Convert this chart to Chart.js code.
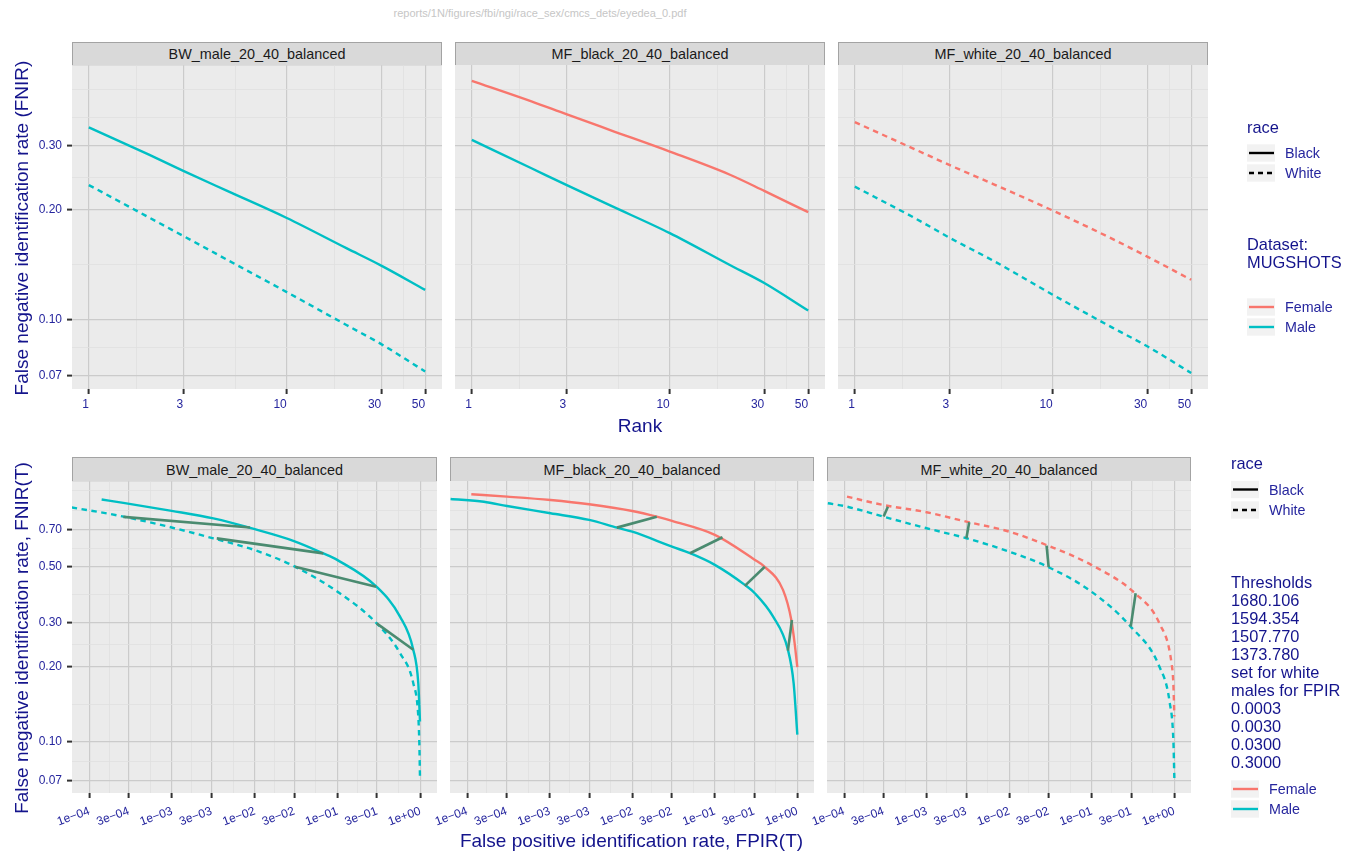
<!DOCTYPE html>
<html>
<head>
<meta charset="utf-8">
<title>eyedea_0</title>
<script src="https://cdn.jsdelivr.net/npm/chart.js@4.4.1/dist/chart.umd.min.js"></script>
<style>
  html, body { margin: 0; padding: 0; background: #fff; }
  #page { position: relative; width: 1359px; height: 855px; overflow: hidden;
          font-family: "Liberation Sans", Arial, Helvetica, sans-serif; }
  #page canvas { position: absolute; }
  .txt { position: absolute; white-space: nowrap; line-height: 1; }
  .strip { position: absolute; box-sizing: border-box; background: #d9d9d9; border: 1px solid #a3a3a3;
           color: #1a1a1a; font-size: 14.4px; display: flex; align-items: center; justify-content: center; }
</style>
</head>
<body>
<div id="page"></div>
<script>
// ---------- data ----------
const panelNames = ['BW_male_20_40_balanced', 'MF_black_20_40_balanced', 'MF_white_20_40_balanced'];

// top row: FNIR by rank
const ranks = [1, 2, 3, 5, 10, 20, 30, 50];
const bwBlackMaleRank = [0.337, 0.284, 0.256, 0.2255, 0.190, 0.157, 0.1406, 0.1206];
const bwWhiteMaleRank = [0.234, 0.191, 0.1696, 0.1459, 0.1189, 0.0966, 0.0856, 0.072];
const mfbFemaleRank = [0.452, 0.397, 0.366, 0.331, 0.289, 0.250, 0.2254, 0.197];
const mfbMaleRank = [0.311, 0.260, 0.234, 0.2056, 0.1726, 0.1413, 0.1259, 0.1058];
const mfwFemaleRank = [0.348, 0.2935, 0.2655, 0.2353, 0.199, 0.1664, 0.1488, 0.1285];
const mfwMaleRank = [0.2315, 0.19, 0.1678, 0.145, 0.1169, 0.095, 0.0844, 0.0713];

// bottom row: DET curves (FPIR, FNIR)
const bwBlackMaleFpir = [1.41e-4, 2.58e-4, 9.9e-4, 3.16e-3, 1.0e-2, 2.92e-2, 6.73e-2, 0.1, 0.297, 0.569, 0.823, 0.946, 0.992];
const bwBlackMaleFnir = [0.924, 0.896, 0.833, 0.777, 0.704, 0.633, 0.564, 0.530, 0.415, 0.316, 0.233, 0.1715, 0.1207];
const bwWhiteMaleFpir = [6.12e-5, 2.14e-4, 9.9e-4, 3.16e-3, 1.0e-2, 2.92e-2, 0.1, 0.297, 0.569, 0.823, 0.946, 0.973, 0.992];
const bwWhiteMaleFnir = [0.859, 0.80, 0.715, 0.647, 0.581, 0.503, 0.397, 0.297, 0.226, 0.1715, 0.1264, 0.1, 0.0719];

const mfbFemaleFpir = [1.12e-4, 3.04e-4, 1.02e-3, 3.0e-3, 1.0e-2, 1.98e-2, 3.03e-2, 0.1, 0.3, 0.403, 0.67, 0.846, 0.928, 1.0];
const mfbFemaleFnir = [0.968, 0.947, 0.918, 0.883, 0.830, 0.788, 0.758, 0.667, 0.533, 0.498, 0.403, 0.306, 0.247, 0.1986];
const mfbMaleFpir = [6.28e-5, 1.59e-4, 3.04e-4, 1.02e-3, 3.0e-3, 6.5e-3, 1.0e-2, 3.03e-2, 5.01e-2, 0.1, 0.231, 0.305, 0.507, 0.769, 0.902, 1.0];
const mfbMaleFnir = [0.927, 0.904, 0.869, 0.813, 0.765, 0.713, 0.687, 0.599, 0.564, 0.507, 0.422, 0.391, 0.316, 0.233, 0.1715, 0.107];

const mfwFemaleFpir = [1.08e-4, 3.0e-4, 9.95e-4, 3.02e-3, 1.0e-2, 3.0e-2, 9.86e-2, 0.333, 0.658, 0.925, 0.972, 0.99, 1.0];
const mfwFemaleFnir = [0.947, 0.877, 0.821, 0.753, 0.687, 0.603, 0.507, 0.391, 0.297, 0.206, 0.172, 0.143, 0.1264];
const mfwMaleFpir = [6.32e-5, 1.0e-4, 3.0e-4, 9.95e-4, 3.02e-3, 1.0e-2, 3.0e-2, 9.86e-2, 0.296, 0.658, 0.881, 0.975, 1.0];
const mfwMaleFnir = [0.891, 0.869, 0.788, 0.709, 0.647, 0.572, 0.496, 0.397, 0.288, 0.1998, 0.1429, 0.1, 0.0719];

// threshold links (same threshold on both groups)
const bwLinkWhiteFpir = [2.58e-4, 3.47e-3, 3.06e-2, 0.297];
const bwLinkWhiteFnir = [0.788, 0.647, 0.499, 0.297];
const bwLinkBlackFpir = [8.75e-3, 6.73e-2, 0.292, 0.823];
const bwLinkBlackFnir = [0.715, 0.564, 0.415, 0.233];

const mfbLinkMaleFpir = [6.5e-3, 5.01e-2, 0.231, 0.769];
const mfbLinkMaleFnir = [0.713, 0.564, 0.418, 0.231];
const mfbLinkFemaleFpir = [1.98e-2, 0.124, 0.403, 0.86];
const mfbLinkFemaleFnir = [0.788, 0.653, 0.498, 0.306];

const mfwLinkMaleFpir = [3.0e-4, 3.02e-3, 3.0e-2, 0.296];
const mfwLinkMaleFnir = [0.79, 0.647, 0.496, 0.288];
const mfwLinkFemaleFpir = [3.38e-4, 3.27e-3, 2.83e-2, 0.34];
const mfwLinkFemaleFnir = [0.864, 0.749, 0.605, 0.391];

// axis ticks
const rankTicks = [1, 3, 10, 30, 50];
const rankTickLabels = ['1', '3', '10', '30', '50'];
const rankMinor = [1.732, 5.477, 17.32, 38.73];
const rankFnirTicks = [0.07, 0.1, 0.2, 0.3];
const rankFnirTickLabels = ['0.07', '0.10', '0.20', '0.30'];
const rankFnirMinor = [0.0837, 0.1414, 0.2449, 0.3585, 0.4286];

const fpirTicks = [1e-4, 3e-4, 1e-3, 3e-3, 1e-2, 3e-2, 1e-1, 3e-1, 1];
const fpirTickLabels = ['1e\u221204', '3e\u221204', '1e\u221203', '3e\u221203', '1e\u221202', '3e\u221202', '1e\u221201', '3e\u221201', '1e+00'];
const fpirMinor = [1.733e-4, 5.48e-4, 1.733e-3, 5.48e-3, 1.733e-2, 5.48e-2, 0.1733, 0.548];
const detFnirTicks = [0.07, 0.1, 0.2, 0.3, 0.5, 0.7];
const detFnirTickLabels = ['0.07', '0.10', '0.20', '0.30', '0.50', '0.70'];
const detFnirMinor = [0.0837, 0.1414, 0.2449, 0.3873, 0.5916, 0.8367, 1.0];

const thresholdLines = ['Thresholds', '1680.106', '1594.354', '1507.770', '1373.780',
  'set for white', 'males for FPIR', '0.0003', '0.0030', '0.0300', '0.3000'];

// ---------- styling ----------
const FEMALE = '#F8766D', MALE = '#00BFC4', LINK = '#4a8b70';
const TICK_TXT = '#26269e', TITLE_TXT = '#14148c';
const FONT = '"Liberation Sans", Arial, Helvetica, sans-serif';

const page = document.getElementById('page');

// plot-area geometry in page px
const topRow = { t: 65, b: 389, cols: [[72, 442], [455, 825], [838, 1208]] };
const botRow = { t: 481, b: 793, cols: [[72, 437], [450, 814], [827, 1191]] };
const M = { l: 80, t: 12, r: 40, b: 70 }, AXW = 40, AXH = 50;

const panelBg = {
  id: 'panelBg',
  beforeDraw(chart) {
    const { ctx, chartArea: a } = chart;
    ctx.save();
    ctx.fillStyle = '#ebebeb';
    ctx.fillRect(a.left, a.top, a.right - a.left, a.bottom - a.top);
    ctx.restore();
  }
};

function axisOpts(dir, a) {
  const all = a.ticks.map((v, i) => ({ value: v, txt: a.labels[i] }))
    .concat(a.minor.map(v => ({ value: v, txt: '', minor: true })))
    .filter(t => t.value > a.min && t.value < a.max)
    .sort((p, q) => p.value - q.value);
  return {
    type: 'logarithmic',
    min: a.min,
    max: a.max,
    afterBuildTicks: s => { s.ticks = all.map(t => Object.assign({}, t)); },
    afterFit: s => { if (dir === 'x') s.height = AXH; else s.width = AXW; },
    border: { display: false },
    grid: {
      color: c => (c.tick && c.tick.minor ? '#e0e0e0' : '#cbcbcb'),
      lineWidth: c => (c.tick && c.tick.minor ? 0.8 : 1.2),
      drawTicks: a.show,
      tickLength: 5,
      tickWidth: 2,
      tickColor: c => (c.tick && c.tick.minor ? 'rgba(0,0,0,0)' : '#333333')
    },
    ticks: {
      display: a.show,
      autoSkip: false,
      color: TICK_TXT,
      font: { family: FONT, size: 12 },
      padding: a.pad,
      minRotation: a.rot || 0,
      maxRotation: a.rot || 0,
      align: dir === 'x' ? 'end' : 'center',
      callback: (v, i, ts) => ts[i].txt
    }
  };
}

function makePanel(col, row, x, y, datasets) {
  const [l, r] = col;
  const w = r - l + M.l + M.r, h = row.b - row.t + M.t + M.b;
  const canvas = document.createElement('canvas');
  canvas.width = w; canvas.height = h;
  canvas.style.left = (l - M.l) + 'px';
  canvas.style.top = (row.t - M.t) + 'px';
  canvas.style.width = w + 'px';
  canvas.style.height = h + 'px';
  page.appendChild(canvas);
  new Chart(canvas, {
    type: 'line',
    data: { datasets },
    options: {
      responsive: false,
      animation: false,
      events: [],
      layout: { padding: { left: M.l - AXW, top: M.t, right: M.r, bottom: M.b - AXH } },
      plugins: { legend: { display: false }, tooltip: { enabled: false } },
      elements: { point: { radius: 0 }, line: { borderCapStyle: 'butt', borderJoinStyle: 'round' } },
      scales: { x: axisOpts('x', x), y: axisOpts('y', y) }
    },
    plugins: [panelBg]
  });
}

function series(xs, ys, color, dashed) {
  return {
    data: xs.map((v, i) => ({ x: v, y: ys[i] })),
    borderColor: color, borderWidth: 2.4, borderDash: dashed ? [5.5, 4.5] : [],
    cubicInterpolationMode: 'monotone',
    pointRadius: 0, fill: false, order: 2
  };
}

function links(ax, ay, bx, by) {
  return ax.map((v, i) => ({
    data: [{ x: v, y: ay[i] }, { x: bx[i], y: by[i] }],
    borderColor: LINK, borderWidth: 2.6, pointRadius: 0, fill: false, tension: 0, order: 0
  }));
}

// axis ranges
const rankX = { min: Math.pow(10, -0.085), max: Math.pow(10, 1.784), ticks: rankTicks, labels: rankTickLabels, minor: rankMinor, show: true, pad: 3 };
const rankY = { min: Math.pow(10, -1.1908), max: Math.pow(10, -0.3016), ticks: rankFnirTicks, labels: rankFnirTickLabels, minor: rankFnirMinor, pad: 5 };
const detX = { min: Math.pow(10, -4.209), max: Math.pow(10, 0.202), ticks: fpirTicks, labels: fpirTickLabels, minor: fpirMinor, show: true, pad: 6, rot: 20 };
const detY = { min: Math.pow(10, -1.2027), max: Math.pow(10, 0.0386), ticks: detFnirTicks, labels: detFnirTickLabels, minor: detFnirMinor, pad: 5 };
const withY = (a, show) => Object.assign({}, a, { show });

// ---------- strips ----------
function strip(label, col, t, b) {
  const d = document.createElement('div');
  d.className = 'strip';
  d.textContent = label;
  d.style.left = col[0] + 'px';
  d.style.width = (col[1] - col[0]) + 'px';
  d.style.top = t + 'px';
  d.style.height = (b - t) + 'px';
  page.appendChild(d);
}
panelNames.forEach((n, i) => {
  strip(n, topRow.cols[i], 42, 66);
  strip(n, botRow.cols[i], 457, 482);
});

// ---------- panels ----------
makePanel(topRow.cols[0], topRow, rankX, withY(rankY, true), [
  series(ranks, bwBlackMaleRank, MALE, false),
  series(ranks, bwWhiteMaleRank, MALE, true)
]);
makePanel(topRow.cols[1], topRow, rankX, withY(rankY, false), [
  series(ranks, mfbFemaleRank, FEMALE, false),
  series(ranks, mfbMaleRank, MALE, false)
]);
makePanel(topRow.cols[2], topRow, rankX, withY(rankY, false), [
  series(ranks, mfwFemaleRank, FEMALE, true),
  series(ranks, mfwMaleRank, MALE, true)
]);

makePanel(botRow.cols[0], botRow, detX, withY(detY, true), [
  series(bwBlackMaleFpir, bwBlackMaleFnir, MALE, false),
  series(bwWhiteMaleFpir, bwWhiteMaleFnir, MALE, true),
  ...links(bwLinkWhiteFpir, bwLinkWhiteFnir, bwLinkBlackFpir, bwLinkBlackFnir)
]);
makePanel(botRow.cols[1], botRow, detX, withY(detY, false), [
  series(mfbFemaleFpir, mfbFemaleFnir, FEMALE, false),
  series(mfbMaleFpir, mfbMaleFnir, MALE, false),
  ...links(mfbLinkMaleFpir, mfbLinkMaleFnir, mfbLinkFemaleFpir, mfbLinkFemaleFnir)
]);
makePanel(botRow.cols[2], botRow, detX, withY(detY, false), [
  series(mfwFemaleFpir, mfwFemaleFnir, FEMALE, true),
  series(mfwMaleFpir, mfwMaleFnir, MALE, true),
  ...links(mfwLinkMaleFpir, mfwLinkMaleFnir, mfwLinkFemaleFpir, mfwLinkFemaleFnir)
]);

// ---------- text ----------
function text(str, x, y, size, color, opt) {
  opt = opt || {};
  const d = document.createElement('div');
  d.className = 'txt';
  d.textContent = str;
  d.style.fontSize = size + 'px';
  d.style.color = color;
  d.style.left = x + 'px';
  d.style.top = y + 'px';
  d.style.transform = (opt.center ? 'translate(-50%,-50%)' : 'translateY(-50%)') + (opt.rot ? ' rotate(' + opt.rot + 'deg)' : '');
  page.appendChild(d);
}

text('reports/1N/figures/fbi/ngi/race_sex/cmcs_dets/eyedea_0.pdf', 540, 13, 11, '#c6c6c6', { center: true });
text('False negative identification rate (FNIR)', 21, 227.5, 19, TITLE_TXT, { center: true, rot: -90 });
text('Rank', 640, 425, 19, TITLE_TXT, { center: true });
text('False negative identification rate, FNIR(T)', 21, 637.5, 19, TITLE_TXT, { center: true, rot: -90 });
text('False positive identification rate, FPIR(T)', 631.5, 840, 19, TITLE_TXT, { center: true });

// ---------- legends ----------
const svgNS = 'http://www.w3.org/2000/svg';
const keySvg = document.createElementNS(svgNS, 'svg');
keySvg.setAttribute('width', 1359);
keySvg.setAttribute('height', 855);
keySvg.style.position = 'absolute';
keySvg.style.left = '0px';
keySvg.style.top = '0px';
page.appendChild(keySvg);

function key(x, cy, color, dashed) {
  const rect = document.createElementNS(svgNS, 'rect');
  rect.setAttribute('x', x); rect.setAttribute('y', cy - 8.7);
  rect.setAttribute('width', 28); rect.setAttribute('height', 17.4);
  rect.setAttribute('fill', '#f2f2f2');
  keySvg.appendChild(rect);
  const ln = document.createElementNS(svgNS, 'line');
  ln.setAttribute('x1', x + 2); ln.setAttribute('x2', x + 27);
  ln.setAttribute('y1', cy); ln.setAttribute('y2', cy);
  ln.setAttribute('stroke', color); ln.setAttribute('stroke-width', 2.4);
  if (dashed) ln.setAttribute('stroke-dasharray', '5 4');
  keySvg.appendChild(ln);
}

function legendRace(x, cyTitle, cyBlack, cyWhite) {
  text('race', x, cyTitle, 16.4, TITLE_TXT);
  key(x, cyBlack, '#000', false);
  key(x, cyWhite, '#000', true);
  text('Black', x + 38, cyBlack, 14.3, TICK_TXT);
  text('White', x + 38, cyWhite, 14.3, TICK_TXT);
}
function legendSex(x, cyF, cyM) {
  key(x, cyF, FEMALE, false);
  key(x, cyM, MALE, false);
  text('Female', x + 38, cyF, 14.3, TICK_TXT);
  text('Male', x + 38, cyM, 14.3, TICK_TXT);
}

legendRace(1247, 127, 153, 173);
text('Dataset:', 1247, 244.3, 16.4, TITLE_TXT);
text('MUGSHOTS', 1247, 261.7, 16.4, TITLE_TXT);
legendSex(1247, 307, 327);

legendRace(1231, 463.3, 489.5, 510);
thresholdLines.forEach((s, i) => text(s, 1231, 581.7 + i * 18.06, 16.4, TITLE_TXT));
legendSex(1231, 789, 809);
</script>
</body>
</html>
